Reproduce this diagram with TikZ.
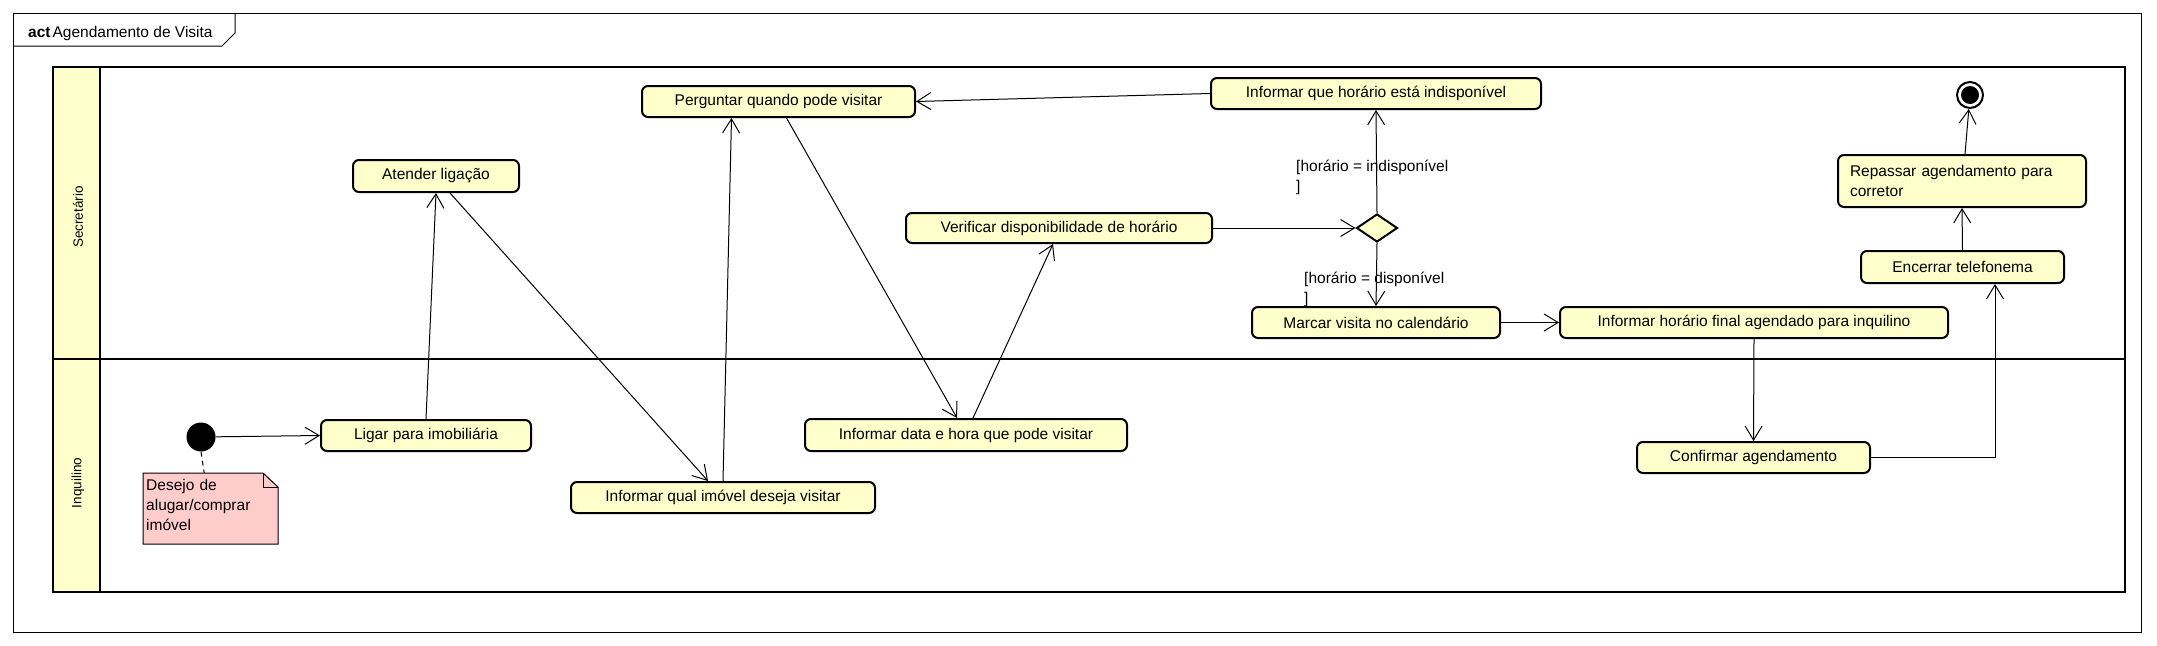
\documentclass[tikz,border=0pt]{standalone}
\usepackage{fontspec}
\setmainfont{Liberation Sans}
\usetikzlibrary{arrows.meta,shapes.geometric}
\definecolor{acaoamarelo}{RGB}{255,255,204}
\definecolor{notarosa}{RGB}{255,204,204}

\begin{document}
\begin{tikzpicture}[x=1pt,y=-1pt,
    texto/.style={font=\fontsize{15.5pt}{20pt}\selectfont},
    acao/.style={texto,draw,line width=2pt,rounded corners=6pt,fill=acaoamarelo,inner sep=0pt},
    fluxo/.style={line width=1pt,-{Straight Barb[length=14pt,width=17pt]}},
    guarda/.style={texto,anchor=north west,inner sep=0pt,align=left},
    raia/.style={rotate=90,font=\fontsize{13.5pt}{16pt}\selectfont},
    linharaia/.style={line width=2.5pt}]
        \useasboundingbox (0,0) rectangle (2157,645);

        % moldura
        \draw[line width=1pt] (13,13) rectangle (2141,632);
        \draw[line width=1pt] (13,46) -- (222,46) -- (235,33) -- (235,13);
        \node[texto,anchor=base west,inner sep=0pt] (titulo) at (28,37) {\textbf{act}\kern2pt Agendamento de Visita};

        % raias
        \fill[acaoamarelo] (53,67) rectangle (100,592);
        \draw[linharaia] (53,67) rectangle (2125,592);
        \draw[linharaia] (100,67) -- (100,592);
        \draw[linharaia] (53,359) -- (2125,359);
        \node[raia] (secretario) at (78,217) {Secretário};
        \node[raia] (inquilino) at (78,483) {Inquilino};

        % nota
        \filldraw[fill=notarosa,line width=1pt] (143,473) -- (263,473) -- (278,487) -- (278,544) -- (143,544) -- cycle;
        \draw[line width=1pt] (263,473) -- (263,487) -- (278,487);
        \node[texto,anchor=north west,inner xsep=3pt,inner ysep=6pt,text width=129pt,align=left] (nota) at (143,473) {Desejo de\\alugar/comprar\\imóvel};

        % nos inicial e final
        \node[circle,fill=black,minimum size=29pt,inner sep=0pt] (ini) at (201,437) {};
        \node[circle,draw,line width=2pt,minimum size=26pt,inner sep=0pt] (fim) at (1970,95) {};
        \fill (fim.center) circle (9pt);

        % acoes
        \node[acao,minimum width=210pt,minimum height=31pt] (ligar) at (426,435.5) {Ligar para imobiliária};
        \node[acao,minimum width=166pt,minimum height=32pt] (atender) at (436,176) {Atender ligação};
        \node[acao,minimum width=304pt,minimum height=31pt] (qual) at (723,497.5) {Informar qual imóvel deseja visitar};
        \node[acao,minimum width=273pt,minimum height=31pt] (perguntar) at (778.5,101.5) {Perguntar quando pode visitar};
        \node[acao,minimum width=322pt,minimum height=32pt] (data) at (966,435) {Informar data e hora que pode visitar};
        \node[acao,minimum width=306pt,minimum height=30pt] (verificar) at (1059,228) {Verificar disponibilidade de horário};
        \node[diamond,draw,line width=2pt,fill=acaoamarelo,minimum width=41pt,minimum height=28pt,inner sep=0pt] (decisao) at (1377,228) {};
        \node[acao,minimum width=330pt,minimum height=31pt] (indisp) at (1376,93.5) {Informar que horário está indisponível};
        \node[acao,minimum width=248pt,minimum height=31pt] (marcar) at (1376,322.5) {Marcar visita no calendário};
        \node[acao,minimum width=388pt,minimum height=31pt] (horafinal) at (1754,322.5) {Informar horário final agendado para inquilino};
        \node[acao,minimum width=233pt,minimum height=31pt] (confirmar) at (1753.5,457.5) {Confirmar agendamento};
        \node[acao,minimum width=203pt,minimum height=32pt] (encerrar) at (1962.5,267) {Encerrar telefonema};
        \node[acao,minimum width=248pt,minimum height=52pt,text width=224pt,align=left] (repassar) at (1962,181) {Repassar agendamento para\\corretor};

        % guardas
        \node[guarda] (gindisp) at (1296,160) {[horário = indisponível\\]};
        \node[guarda] (gdisp) at (1304,272) {[horário = disponível\\]};

        % fluxos
        \draw[line width=1pt,dash pattern=on 5pt off 4pt] (ini.south) -- ([xshift=-6.5pt]nota.north);
        \draw[fluxo] (ini) -- (ligar.west);
        \draw[fluxo] (ligar.north) -- (atender.south);
        \draw[fluxo] ([xshift=14pt]atender.south) -- ([xshift=-15pt]qual.north);
        \draw[fluxo] (qual.north) -- ([xshift=-47pt]perguntar.south);
        \draw[fluxo] ([xshift=8pt]perguntar.south) -- ([xshift=-9pt]data.north);
        \draw[fluxo] ([xshift=7pt]data.north) -- ([xshift=-6pt]verificar.south);
        \draw[fluxo] (verificar.east) -- (decisao.west);
        \draw[fluxo] (decisao.north) -- (indisp.south);
        \draw[fluxo] (indisp.west) -- (perguntar.east);
        \draw[fluxo] (decisao.south) -- (marcar.north);
        \draw[fluxo] (marcar.east) -- (horafinal.west);
        \draw[fluxo] (horafinal.south) -- (confirmar.north);
        \draw[fluxo] (confirmar.east) -| ([xshift=32.5pt]encerrar.south);
        \draw[fluxo] (encerrar.north) -- (repassar.south);
        \draw[fluxo] ([xshift=3pt]repassar.north) -- (fim);
    \end{tikzpicture}
\end{document}
